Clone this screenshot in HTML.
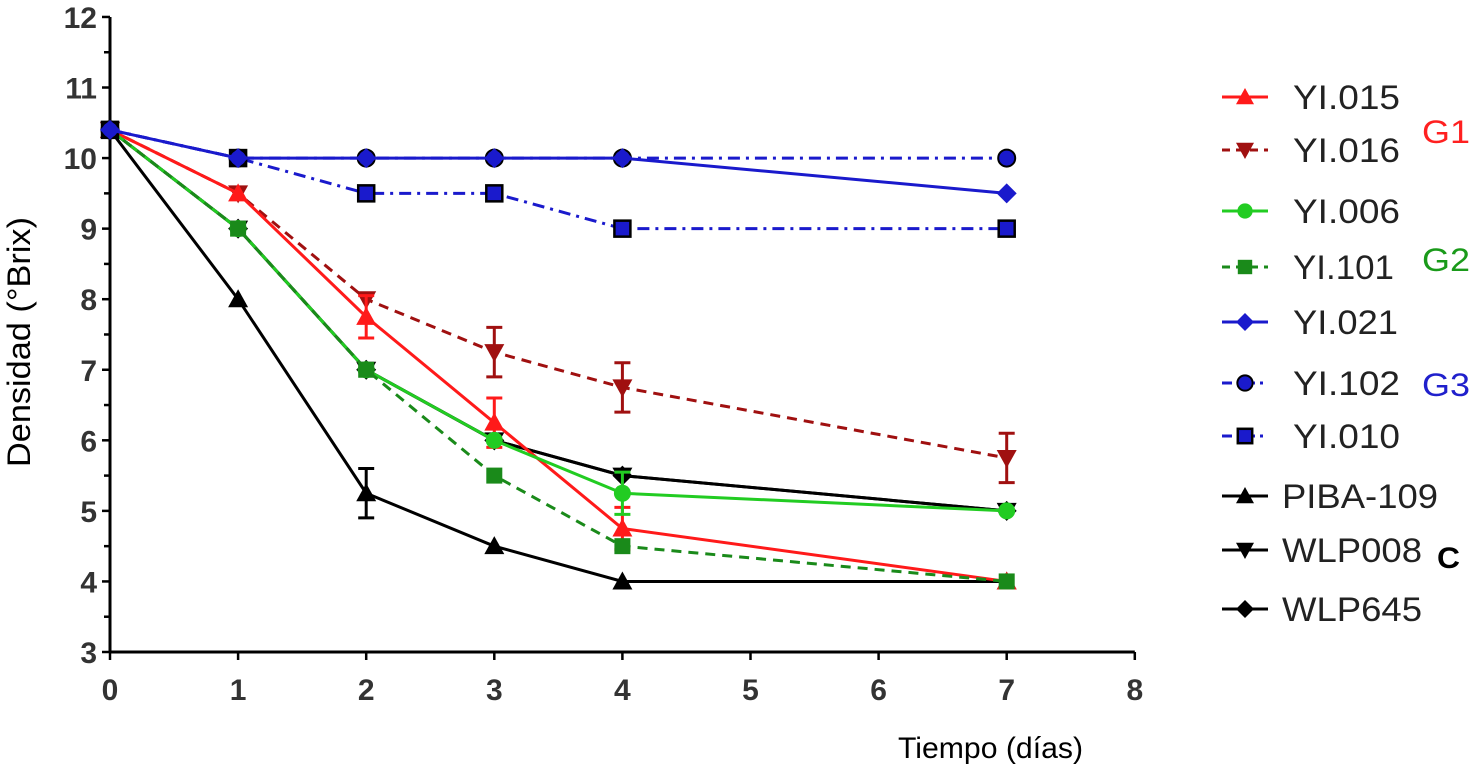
<!DOCTYPE html>
<html><head><meta charset="utf-8"><style>
body{margin:0;background:#fff;}
svg text{font-family:"Liberation Sans",Arial,sans-serif;}
</style></head><body>
<svg id="chart" width="1475" height="769" xmlns="http://www.w3.org/2000/svg">
<g id="axes"></g>
<g id="series"></g>
<g id="legend"></g>
<text transform="translate(30,342) rotate(-90)" text-anchor="middle" font-size="32" textLength="250" lengthAdjust="spacingAndGlyphs">Densidad (°Brix)</text>
<text x="898" y="758" font-size="30" textLength="185" lengthAdjust="spacingAndGlyphs">Tiempo  (días)</text>
<text x="1422" y="143" font-size="32" fill="#ff2020" textLength="48" lengthAdjust="spacingAndGlyphs">G1</text>
<text x="1422" y="271" font-size="32" fill="#1a9a1a" textLength="48" lengthAdjust="spacingAndGlyphs">G2</text>
<text x="1422" y="396" font-size="32" fill="#2020cc" textLength="48" lengthAdjust="spacingAndGlyphs">G3</text>
<text x="1437" y="568" font-size="30" font-weight="bold" textLength="23" lengthAdjust="spacingAndGlyphs">C</text>
</svg>
<script>
const days = [0,1,2,3,4,7];
const xTicks = [0,1,2,3,4,5,6,7,8];
const yTicks = [3,4,5,6,7,8,9,10,11,12];
const seriesNames = ["YI.015","YI.016","YI.006","YI.101","YI.021","YI.102","YI.010","PIBA-109","WLP008","WLP645"];
const yi015 = [10.4,9.5,7.75,6.25,4.75,4.0];
const yi015err = [0,0,0.3,0.35,0.3,0];
const yi016 = [10.4,9.5,8.0,7.25,6.75,5.75];
const yi016err = [0,0,0,0.35,0.35,0.35];
const yi006 = [10.4,9.0,7.0,6.0,5.25,5.0];
const yi006err = [0,0,0,0,0.3,0];
const yi101 = [10.4,9.0,7.0,5.5,4.5,4.0];
const yi021 = [10.4,10,10,10,10,9.5];
const yi102 = [10.4,10,10,10,10,10];
const yi010 = [10.4,10,9.5,9.5,9.0,9.0];
const piba109 = [10.4,8.0,5.25,4.5,4.0,4.0];
const piba109err = [0,0,0.35,0,0,0];
const wlp008 = [10.4,9.0,7.0,6.0,5.5,5.0];
const wlp645 = [10.4,9.0,7.0,6.0,5.5,5.0];

const NS="http://www.w3.org/2000/svg";
const X0=110,XU=128.1,Y3=652,YU=70.56;
const sx=v=>X0+v*XU, sy=v=>Y3-(v-3)*YU;
function el(tag,attrs,parent){const e=document.createElementNS(NS,tag);for(const k in attrs)e.setAttribute(k,attrs[k]);parent.appendChild(e);return e;}
const axes=document.getElementById('axes');
let a=el('line',{x1:X0,y1:sy(12),x2:X0,y2:Y3,stroke:'#000','stroke-width':3},axes);


a=el('line',{x1:X0,y1:Y3,x2:sx(8),y2:Y3,stroke:'#000','stroke-width':3},axes);


for(let i=0;i<yTicks.length;i++){const v=yTicks[i];
 el('line',{x1:X0-8,y1:sy(v),x2:X0,y2:sy(v),stroke:'#000','stroke-width':2.5},axes);
 if(i<yTicks.length-1) el('line',{x1:X0-6,y1:sy(v+0.5),x2:X0,y2:sy(v+0.5),stroke:'#000','stroke-width':2.5},axes);
 const t=el('text',{x:X0-13,y:sy(v)+11,'text-anchor':'end','font-size':30,'font-weight':'bold',fill:'#333'},axes);t.textContent=v;
 
 }
for(const v of xTicks){el('line',{x1:sx(v),y1:Y3,x2:sx(v),y2:Y3+8,stroke:'#000','stroke-width':2.5},axes);
 const t=el('text',{x:sx(v),y:Y3+48,'text-anchor':'middle','font-size':30,'font-weight':'bold',fill:'#333'},axes);t.textContent=v;
 
 }

function marker(g,type,x,y,color,s){
 if(type==='tri')el('polygon',{points:`${x},${y-s} ${x-s},${y+s*0.8} ${x+s},${y+s*0.8}`,fill:color},g);
 else if(type==='tridown')el('polygon',{points:`${x},${y+s} ${x-s},${y-s*0.8} ${x+s},${y-s*0.8}`,fill:color},g);
 else if(type==='circ')el('circle',{cx:x,cy:y,r:s*0.85,fill:color},g);
 else if(type==='circb')el('circle',{cx:x,cy:y,r:s*0.85,fill:color,stroke:'#000','stroke-width':2},g);
 else if(type==='sq')el('rect',{x:x-s*0.8,y:y-s*0.8,width:s*1.6,height:s*1.6,fill:color},g);
 else if(type==='sqb')el('rect',{x:x-s*0.8,y:y-s*0.8,width:s*1.6,height:s*1.6,fill:color,stroke:'#000','stroke-width':2.5},g);
 else if(type==='dia')el('polygon',{points:`${x},${y-s} ${x+s},${y} ${x},${y+s} ${x-s},${y}`,fill:color},g);
}
const defs=[
 {n:'wlp645',vals:wlp645,c:'#000',d:'',m:'dia',err:null},
 {n:'wlp008',vals:wlp008,c:'#000',d:'',m:'tridown',err:null},
 {n:'piba-109',vals:piba109,c:'#000',d:'',m:'tri',err:piba109err},
 {n:'yi-016',vals:yi016,c:'#a01010',d:'10 7',m:'tridown',err:yi016err},
 {n:'yi-015',vals:yi015,c:'#ff1a1a',d:'',m:'tri',err:yi015err},
 {n:'yi-006',vals:yi006,c:'#22cc22',d:'',m:'circ',err:yi006err},
 {n:'yi-101',vals:yi101,c:'#1a8a1a',d:'10 7',m:'sq',err:null},
 {n:'yi-010',vals:yi010,c:'#1a1acc',d:'12 6 3 6',m:'sqb',err:null},
 {n:'yi-102',vals:yi102,c:'#1a1acc',d:'12 6 3 6',m:'circb',err:null},
 {n:'yi-021',vals:yi021,c:'#1a1acc',d:'',m:'dia',err:null},
];
const sg=document.getElementById('series');
for(const s of defs){
 const g=el('g',{},sg);
 
 
 const pts=days.map((d,i)=>sx(d)+','+sy(s.vals[i])).join(' ');
 const attrs={points:pts,fill:'none',stroke:s.c,'stroke-width':3};if(s.d)attrs['stroke-dasharray']=s.d;
 el('polyline',attrs,g);
 days.forEach((d,i)=>{
  const x=sx(d),y=sy(s.vals[i]);
  if(s.err&&s.err[i]>0){const e=s.err[i];
   el('line',{x1:x,y1:sy(s.vals[i]+e),x2:x,y2:sy(s.vals[i]-e),stroke:s.c,'stroke-width':3},g);
   el('line',{x1:x-8,y1:sy(s.vals[i]+e),x2:x+8,y2:sy(s.vals[i]+e),stroke:s.c,'stroke-width':3},g);
   el('line',{x1:x-8,y1:sy(s.vals[i]-e),x2:x+8,y2:sy(s.vals[i]-e),stroke:s.c,'stroke-width':3},g);}
  marker(g,s.m,x,y,s.c,10);
 });
}
const legendItems=[
 ['#ff1a1a','','tri'],['#a01010','8 6','tridown'],['#22cc22','','circ'],['#1a8a1a','8 6','sq'],
 ['#1a1acc','','dia'],['#1a1acc','10 5 3 5','circb'],['#1a1acc','10 5 3 5','sqb'],
 ['#000','','tri'],['#000','','tridown'],['#000','','dia']];
const legendY=[97,150,211,267,322,383,436,496,550,609];
const legendX=[1293,1293,1293,1293,1293,1293,1293,1282,1282,1282];
const legendW=[107,107,107,101,105,107,107,156,140,140];
const lg=document.getElementById('legend');
legendItems.forEach((it,i)=>{
 const g=el('g',{},lg);
 
 
 const y=legendY[i];const at={x1:1222,y1:y,x2:1268,y2:y,stroke:it[0],'stroke-width':3};if(it[1])at['stroke-dasharray']=it[1];
 el('line',at,g);marker(g,it[2],1245,y,it[0],9);
 const t=el('text',{x:legendX[i],y:y+12,'font-size':34,fill:'#222',textLength:legendW[i],lengthAdjust:'spacingAndGlyphs'},g);t.textContent=seriesNames[i];
});
</script>
</body></html>
